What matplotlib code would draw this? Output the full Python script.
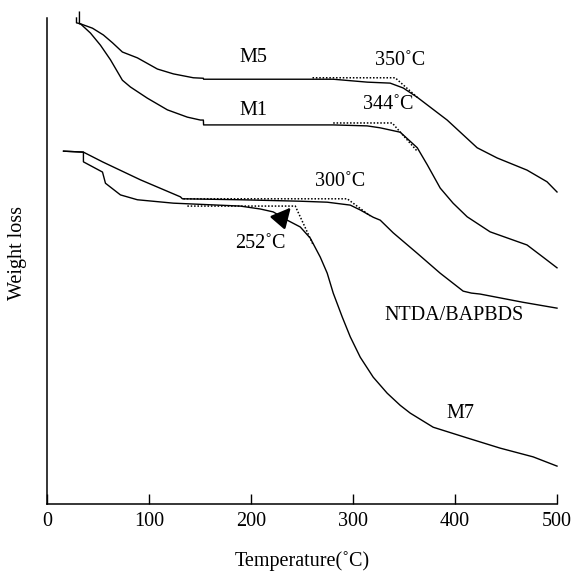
import matplotlib.pyplot as plt

plt.rcParams['font.family'] = ['Liberation Serif', 'DejaVu Serif']
plt.rcParams['font.size'] = 14.5

# TGA curves, temperature (C) vs relative weight (axis units, 0 = bottom, 100 = top)
m5_t = [31.8, 31.8, 32.8, 44.6, 55.3, 64.2, 73.9, 88.6, 108.2, 123.9, 143.5, 153.3, 153.5,
        189.5, 280.6, 314.0, 336.4, 349.2, 362.9, 385.4, 392.3, 421.7, 441.3, 470.6,
        490.2, 500.0]
m5_w = [101.2, 98.8, 98.8, 97.9, 96.5, 94.9, 93.0, 91.8, 89.5, 88.5, 87.7, 87.6, 87.4,
        87.4, 87.4, 86.8, 86.6, 85.6, 83.7, 80.1, 79.0, 73.3, 71.2, 68.7,
        66.3, 64.2]

m1_t = [28.9, 28.9, 32.8, 42.6, 52.4, 62.2, 73.9, 81.8, 98.4, 118.0, 137.6, 150.4, 153.3,
        153.5, 280.6, 313.9, 326.7, 346.3, 363.0, 372.8, 385.5, 398.1, 411.9, 434.4,
        470.6, 486.3, 500.0]
m1_w = [100.0, 99.0, 98.8, 96.9, 94.4, 91.4, 87.2, 85.8, 83.5, 81.1, 79.6, 79.0, 79.0,
        78.0, 78.0, 77.8, 77.4, 76.5, 73.3, 69.8, 65.0, 61.9, 59.1, 56.0,
        53.3, 50.8, 48.6]

ntda_t = [16.2, 35.7, 54.4, 91.6, 130.8, 132.7, 189.5, 248.3, 274.7, 297.3, 307.1,
          319.8, 326.7, 339.4, 362.9, 385.4, 408.0, 416.0, 424.6, 466.8, 500.0]
ntda_w = [72.6, 72.4, 70.4, 66.7, 63.2, 62.8, 62.6, 62.3, 62.1, 61.5, 60.5,
          59.0, 58.4, 55.8, 51.6, 47.5, 43.8, 43.4, 43.2, 41.5, 40.3]

m7_t = [16.2, 35.7, 35.7, 54.4, 57.3, 72.0, 88.6, 123.9, 189.5, 209.1, 221.8, 235.5,
        248.3, 258.1, 267.9, 274.7, 280.6, 289.4, 297.3, 307.1, 319.8, 333.5, 346.3,
        356.1, 378.6, 411.9, 444.2, 476.6, 500.0]
m7_w = [72.6, 72.4, 70.4, 68.3, 66.0, 63.6, 62.6, 61.9, 61.3, 60.7, 60.1, 58.4,
        57.0, 54.7, 50.8, 47.5, 43.4, 38.5, 34.4, 30.2, 26.1, 22.8, 20.3,
        18.7, 15.8, 13.6, 11.5, 9.7, 7.8]

# onset tangent construction lines
tan_m5_t, tan_m5_w = [260.3, 341.3, 362.9], [87.7, 87.7, 83.7]
tan_m1_t, tan_m1_w = [280.6, 338.4, 362.9], [78.4, 78.4, 72.6]
tan_ntda_t, tan_ntda_w = [133.7, 294.3, 316.8], [62.8, 62.8, 59.3]
tan_m7_t, tan_m7_w = [137.6, 243.4, 261.0], [61.3, 61.3, 53.3]

xticks = [0, 100, 200, 300, 400, 500]

fig = plt.figure(figsize=(5.74, 5.73), dpi=100)
ax = fig.add_axes([0.0819, 0.1204, 0.8885, 0.8482])

for t, w in [(m5_t, m5_w), (m1_t, m1_w), (ntda_t, ntda_w), (m7_t, m7_w)]:
    ax.plot(t, w, color='black', lw=1.0, clip_on=False)

for t, w in [(tan_m5_t, tan_m5_w), (tan_m1_t, tan_m1_w),
             (tan_ntda_t, tan_ntda_w), (tan_m7_t, tan_m7_w)]:
    ax.plot(t, w, color='black', lw=1.1, ls=(0, (1, 1.2)))

# labels
ax.text(202, 91.8, 'M5', ha='center', va='center')
ax.text(202, 80.9, 'M1', ha='center', va='center')
ax.text(346, 91.2, '350˚C', ha='center', va='center')
ax.text(334.5, 82.3, '344˚C', ha='center', va='center')
ax.text(287.5, 66.3, '300˚C', ha='center', va='center')
ax.text(399, 38.7, 'NTDA/BAPBDS', ha='center', va='center')
ax.text(405, 18.7, 'M7', ha='center', va='center')
ax.annotate('252˚C', xy=(239, 61.0), xytext=(209, 53.7), ha='center', va='center',
            arrowprops=dict(arrowstyle='-|>', color='black', lw=1.8,
                            mutation_scale=30, shrinkA=9, shrinkB=0))

ax.set_xlim(0, 500)
ax.set_ylim(0, 100)
ax.set_xticks(xticks)
ax.set_yticks([])
ax.tick_params(axis='x', direction='in', length=7, width=1.0, pad=6)
for s in ['top', 'right']:
    ax.spines[s].set_visible(False)
for s in ['left', 'bottom']:
    ax.spines[s].set_linewidth(1.1)

ax.set_xlabel('Temperature(˚C)', labelpad=14)
ax.set_ylabel('Weight loss', va='center')
ax.yaxis.set_label_coords(-0.057, 0.516)

fig.savefig('out.png', dpi=100)
